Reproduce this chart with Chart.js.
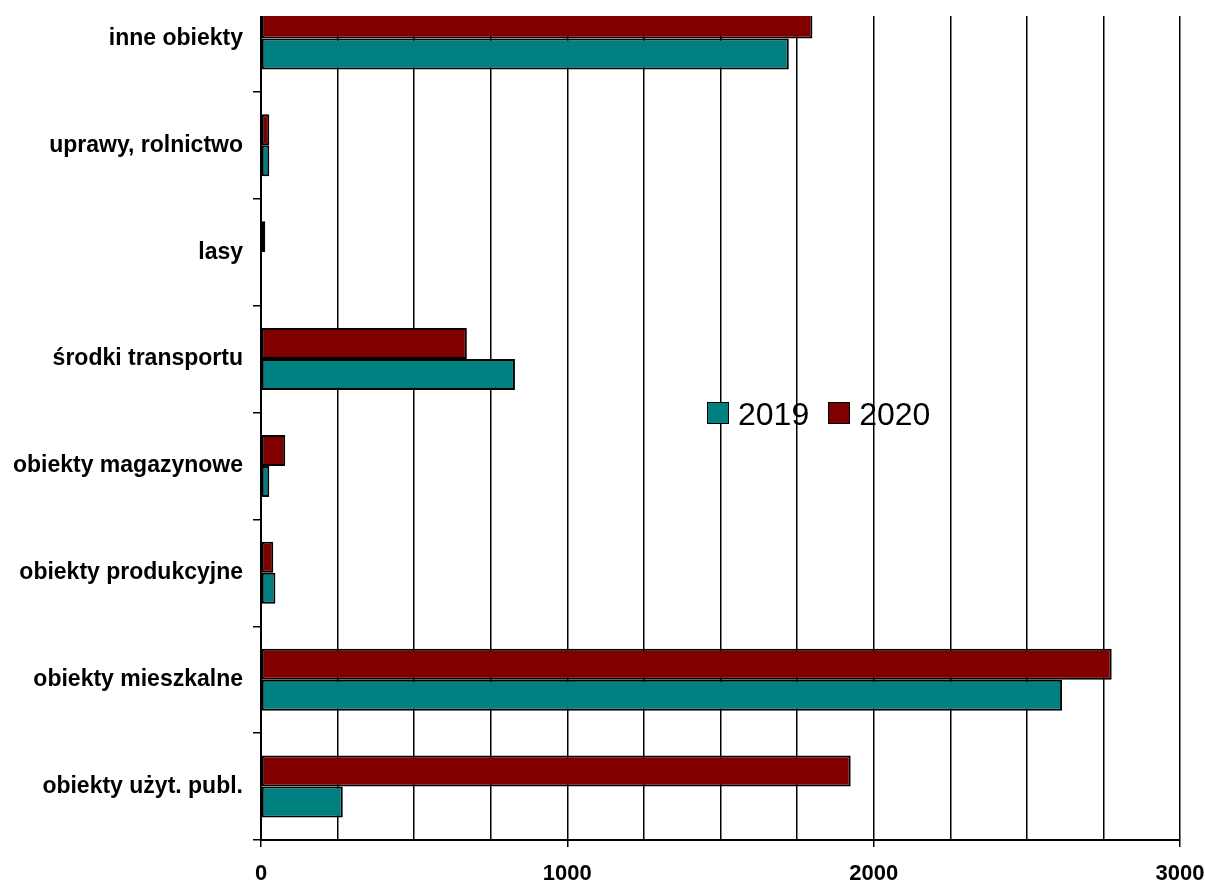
<!DOCTYPE html>
<html>
<head>
<meta charset="utf-8">
<script src="https://cdn.jsdelivr.net/npm/chart.js@4"></script>
<style>
  html, body { margin: 0; padding: 0; background: #fff; overflow: hidden; }
  body { width: 1205px; height: 884px; position: relative; font-family: "Liberation Sans", Arial, sans-serif; }
  #clip { position: absolute; left: 0; top: 16px; width: 1205px; height: 868px; overflow: hidden; }
  #pozary { position: absolute; left: 0; top: -31px; }
  #legend { position: absolute; left: 707px; top: 398px; display: flex; font-size: 32px; line-height: 32px; color: #000; }
  .item { display: flex; align-items: flex-start; }
  .box { width: 20px; height: 20px; border: 1px solid #000; margin-top: 4px; margin-right: 9px; }
  .item + .item { margin-left: 19px; }
</style>
</head>
<body>
<div id="clip"><canvas id="pozary" width="1205" height="899"></canvas></div>
<div id="legend"></div>
<script>
const categories = [
  'inne obiekty',
  'uprawy, rolnictwo',
  'lasy',
  'środki transportu',
  'obiekty magazynowe',
  'obiekty produkcyjne',
  'obiekty mieszkalne',
  'obiekty użyt. publ.'
];

const values2019 = [1723, 27, 0, 829, 27, 47, 2615, 267];
const values2020 = [1800, 27, 14, 672, 79, 40, 2777, 1925];

const xTickLabels = [0, 1000, 2000, 3000];

const colors = {
  y2019: '#008080',
  y2020: '#800000'
};

// legenda jak w oryginale: 2019, potem 2020
const legendEl = document.getElementById('legend');
[['2019', colors.y2019], ['2020', colors.y2020]].forEach(([name, color]) => {
  const item = document.createElement('div');
  item.className = 'item';
  item.innerHTML = `<span class="box" style="background:${color}"></span><span>${name}</span>`;
  legendEl.appendChild(item);
});

const ctx = document.getElementById('pozary').getContext('2d');
const fontFamily = '"Liberation Sans", Arial, sans-serif';

const chart = new Chart(ctx, {
  type: 'bar',
  data: {
    labels: categories,
    datasets: [
      // 2020 first so it sits above 2019 inside each category
      {
        label: '2020',
        data: values2020,
        backgroundColor: colors.y2020,
        borderColor: '#000',
        borderWidth: 2,
        borderSkipped: false
      },
      {
        label: '2019',
        data: values2019,
        backgroundColor: colors.y2019,
        borderColor: '#000',
        borderWidth: 2,
        borderSkipped: false
      }
    ]
  },
  options: {
    indexAxis: 'y',
    responsive: false,
    animation: false,
    categoryPercentage: 0.58,
    barPercentage: 1.0,
    layout: { padding: { top: 0, right: 25, bottom: 0, left: 0 } },
    plugins: {
      legend: { display: false },
      tooltip: { enabled: false }
    },
    scales: {
      x: {
        min: 0,
        max: 3000,
        ticks: {
          stepSize: 250,
          autoSkip: false,
          maxRotation: 0,
          padding: 14,
          color: '#000',
          font: { family: fontFamily, size: 22, weight: 'bold' },
          callback: v => xTickLabels.includes(v) ? String(v) : ''
        },
        grid: {
          color: '#000',
          lineWidth: 1.5,
          tickLength: 7,
          tickColor: c => xTickLabels.includes(c.tick.value) ? '#000' : 'rgba(0,0,0,0)'
        },
        border: { display: true, color: '#000', width: 2 },
        afterFit: scale => {
          scale.height = 44;
          scale.paddingLeft = 0;
          scale.paddingRight = 0;
        }
      },
      y: {
        ticks: {
          padding: 10,
          color: '#000',
          font: { family: fontFamily, size: 23, weight: 'bold' }
        },
        grid: {
          drawOnChartArea: false,
          tickLength: 8,
          color: '#000',
          lineWidth: 1.5
        },
        border: { display: true, color: '#000', width: 2 },
        afterFit: scale => {
          scale.width = 261;
          scale.paddingTop = 0;
          scale.paddingBottom = 0;
        }
      }
    }
  }
});
</script>
</body>
</html>
